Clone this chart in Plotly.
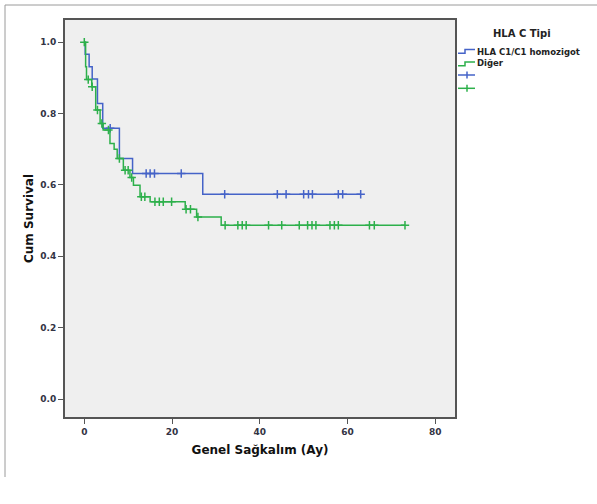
import plotly.graph_objects as go

# ---- data ----
blue_name = "HLA C1/C1 homozigot"
green_name = "Diğer"

blue_times = [0, 0.2, 1.1, 1.8, 3.0, 4.2, 8.0, 11.0, 27.0, 63.0]
blue_surv = [1.0, 0.966, 0.931, 0.897, 0.828, 0.759, 0.674, 0.632, 0.574, 0.574]
blue_censor = [5.9, 14.1, 15.0, 16.0, 22.1, 32.0, 44.0, 46.0, 50.0, 51.1, 52.0, 57.9, 58.9, 63.0]

green_times = [0, 0.3, 0.5, 1.7, 2.6, 3.6, 4.3, 5.85, 6.8, 7.5, 8.9, 10.4, 11.2, 12.7,
               15.0, 23.0, 25.6, 31.2, 73.1]
green_surv = [1.0, 0.931, 0.895, 0.875, 0.81, 0.772, 0.754, 0.716, 0.700, 0.674, 0.641,
              0.621, 0.599, 0.567, 0.553, 0.532, 0.510, 0.487, 0.487]
green_censor = [0, 0.9, 1.8, 3.0, 4.0, 5.5, 8.0, 9.3, 10.0, 10.8, 13.0, 13.8, 16.1, 17.1,
                18.0, 19.9, 23.2, 24.2, 25.9, 32.1, 35.0, 36.0, 36.9, 42.0, 45.0, 49.0,
                50.9, 51.9, 52.8, 56.0, 57.0, 57.9, 65.0, 66.1, 73.1]

x_ticks = [0, 20, 40, 60, 80]
y_ticks = [0.0, 0.2, 0.4, 0.6, 0.8, 1.0]

x_title = "Genel Sağkalım (Ay)"
y_title = "Cum Survival"
legend_title = "HLA C Tipi"

# ---- styles ----
BLUE = "#4563C8"
GREEN = "#2DB04B"
W, H = 597, 504
L, R, T, B = 65, 142, 20, 87
FONT = "DejaVu Sans"


def step_value(times, surv, t):
    v = surv[0]
    for ti, si in zip(times, surv):
        if ti <= t:
            v = si
    return v


fig = go.Figure()
for times, surv, cens, col, name in [
    (blue_times, blue_surv, blue_censor, BLUE, blue_name),
    (green_times, green_surv, green_censor, GREEN, green_name),
]:
    fig.add_trace(go.Scatter(x=times, y=surv, mode="lines", line=dict(color=col, width=1.5, shape="hv"),
                             name=name, showlegend=False))
    fig.add_trace(go.Scatter(x=cens, y=[step_value(times, surv, c) for c in cens], mode="markers",
                             marker=dict(symbol="cross-thin", size=6, line=dict(color=col, width=1.5)),
                             name=name + " censored", showlegend=False))

axis_common = dict(showgrid=False, zeroline=False, showline=True, mirror=True,
                   linecolor="#555555", linewidth=1.8, ticks="outside", ticklen=5,
                   tickcolor="#555555", tickwidth=1.2,
                   tickfont=dict(family=FONT, size=9, color="#333344", weight="bold"))

fig.update_xaxes(range=[-4.4, 84.5], tickvals=x_ticks, **axis_common,
                 title=dict(text=x_title, font=dict(family=FONT, size=12, color="#111111", weight="bold"),
                            standoff=10))
fig.update_yaxes(range=[-0.05, 1.062], tickvals=y_ticks, tickformat=".1f", **axis_common,
                 title=dict(text=y_title, font=dict(family=FONT, size=12, color="#111111", weight="bold"),
                            standoff=4))


def px(xp):
    return (xp - L) / (W - L - R)


def py(yp):
    return (H - B - yp) / (H - T - B)


shapes = []
# outer frame (left and top)
shapes.append(dict(type="line", xref="paper", yref="paper", x0=px(5), x1=px(5), y0=py(5), y1=py(477),
                   line=dict(color="#9a9a9a", width=1)))
shapes.append(dict(type="line", xref="paper", yref="paper", x0=px(5), x1=px(597), y0=py(5), y1=py(5),
                   line=dict(color="#9a9a9a", width=1)))
# legend icons: step lines
for col, ylow, yhigh in [(BLUE, 53.3, 49.5), (GREEN, 65.7, 62.0)]:
    path = "M {} {} L {} {} L {} {} L {} {}".format(px(458), py(ylow), px(465), py(ylow),
                                                    px(465), py(yhigh), px(475), py(yhigh))
    shapes.append(dict(type="path", xref="paper", yref="paper", path=path,
                       line=dict(color=col, width=1.5)))
# legend icons: censor plus
for col, yc in [(BLUE, 75.0), (GREEN, 88.3)]:
    shapes.append(dict(type="line", xref="paper", yref="paper", x0=px(458), x1=px(475), y0=py(yc), y1=py(yc),
                       line=dict(color=col, width=1.5)))
    shapes.append(dict(type="line", xref="paper", yref="paper", x0=px(467), x1=px(467), y0=py(yc - 3.5),
                       y1=py(yc + 3.5), line=dict(color=col, width=1.5)))

annotations = [
    dict(text=legend_title, xref="paper", yref="paper", x=px(522), y=py(33), xanchor="center",
         yanchor="middle", showarrow=False, font=dict(family=FONT, size=10, color="#222222", weight="bold")),
    dict(text=blue_name, xref="paper", yref="paper", x=px(475), y=py(52.3), xanchor="left",
         yanchor="middle", showarrow=False, font=dict(family=FONT, size=8.5, color="#222222", weight="bold")),
    dict(text=green_name, xref="paper", yref="paper", x=px(475), y=py(63.0), xanchor="left",
         yanchor="middle", showarrow=False, font=dict(family=FONT, size=8.5, color="#222222", weight="bold")),
]

fig.update_layout(width=W, height=H, autosize=False, margin=dict(l=L, r=R, t=T, b=B),
                  plot_bgcolor="#EFEFEF", paper_bgcolor="white", showlegend=False,
                  shapes=shapes, annotations=annotations)

fig.write_html("out.html", config={"displayModeBar": False},
               post_script="document.body.style.margin='0';")
